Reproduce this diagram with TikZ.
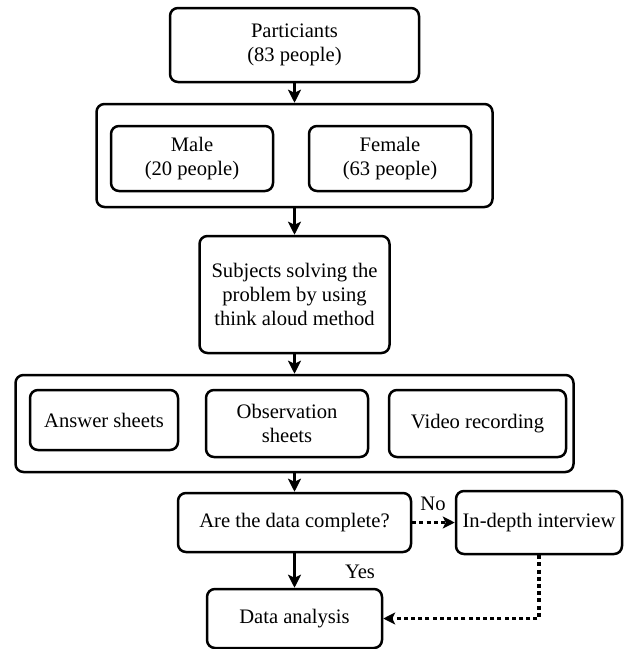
\documentclass[tikz,border=0pt]{standalone}
\usepackage{fontspec}
\setmainfont{Liberation Serif}
\usepackage{tikz}
\usetikzlibrary{arrows.meta, positioning, calc}

\begin{document}
\begin{tikzpicture}[x=0.5pt, y=-0.5pt,
  box/.style={draw, line width=1.25pt, rounded corners=4pt, align=center, inner sep=2pt,
    font=\fontsize{10.3pt}{11.8pt}\selectfont},
  flow/.style={-{Stealth[length=6.5pt, width=6.5pt, inset=1.5pt]}, line width=1.25pt},
  dotflow/.style={-{Stealth[length=6pt, width=6pt, inset=1.5pt]}, line width=1.7pt, dash pattern=on 2pt off 1.6pt},
  lbl/.style={font=\fontsize{10.3pt}{11.8pt}\selectfont, inner sep=0pt}]
  \useasboundingbox (0,0) rectangle (623,649);

  % Participants
  \node[box, minimum width=124.5pt, minimum height=37pt] (part) at (294.5, 45) {Particiants\\(83 people)};

  % Gender
  \node[box, minimum width=198pt, minimum height=51.5pt] (gender) at (294.5, 155.5) {};
  \node[box, minimum width=81pt, minimum height=32.5pt] (male) at (192, 158.5) {Male\\(20 people)};
  \node[box, minimum width=81pt, minimum height=32.5pt] (female) at (390, 158.5) {Female\\(63 people)};
  \draw[flow] (part.south) -- (gender.north);

  % Think aloud
  \node[box, minimum width=95pt, minimum height=58.5pt] (solve) at (294.5, 294.5) {Subjects solving the\\problem by using\\think aloud method};
  \draw[flow] (gender.south) -- (solve.north);

  % Data sources
  \node[box, minimum width=279pt, minimum height=48.5pt] (sources) at (294.5, 423.5) {};
  \node[box, minimum width=74pt, minimum height=30pt] (answer) at (104, 420) {Answer sheets};
  \node[box, minimum width=81pt, minimum height=33.5pt] (observ) at (287, 423.5) {Observation\\sheets};
  \node[box, minimum width=88.5pt, minimum height=33.5pt] (video) at (477.5, 423.5) {Video recording};
  \draw[flow] (solve.south) -- (sources.north);

  % Check
  \node[box, minimum width=116.5pt, minimum height=29.5pt] (check) at (294.5, 522.5) {Are the data complete?};
  \node[box, minimum width=83pt, minimum height=31.5pt] (interview) at (539, 522.5) {In-depth interview};
  \draw[flow] (sources.south) -- (check.north);
  \draw[dotflow] (check.east) -- (interview.west);
  \node[lbl] (no) at (433, 504) {No};

  % Analysis
  \node[box, minimum width=87.5pt, minimum height=29.5pt] (analysis) at (294.5, 618.5) {Data analysis};
  \draw[flow] (check.south) -- (analysis.north);
  \node[lbl] (yes) at (360, 572) {Yes};
  \draw[dotflow] (interview.south) |- (analysis.east);
\end{tikzpicture}
\end{document}
